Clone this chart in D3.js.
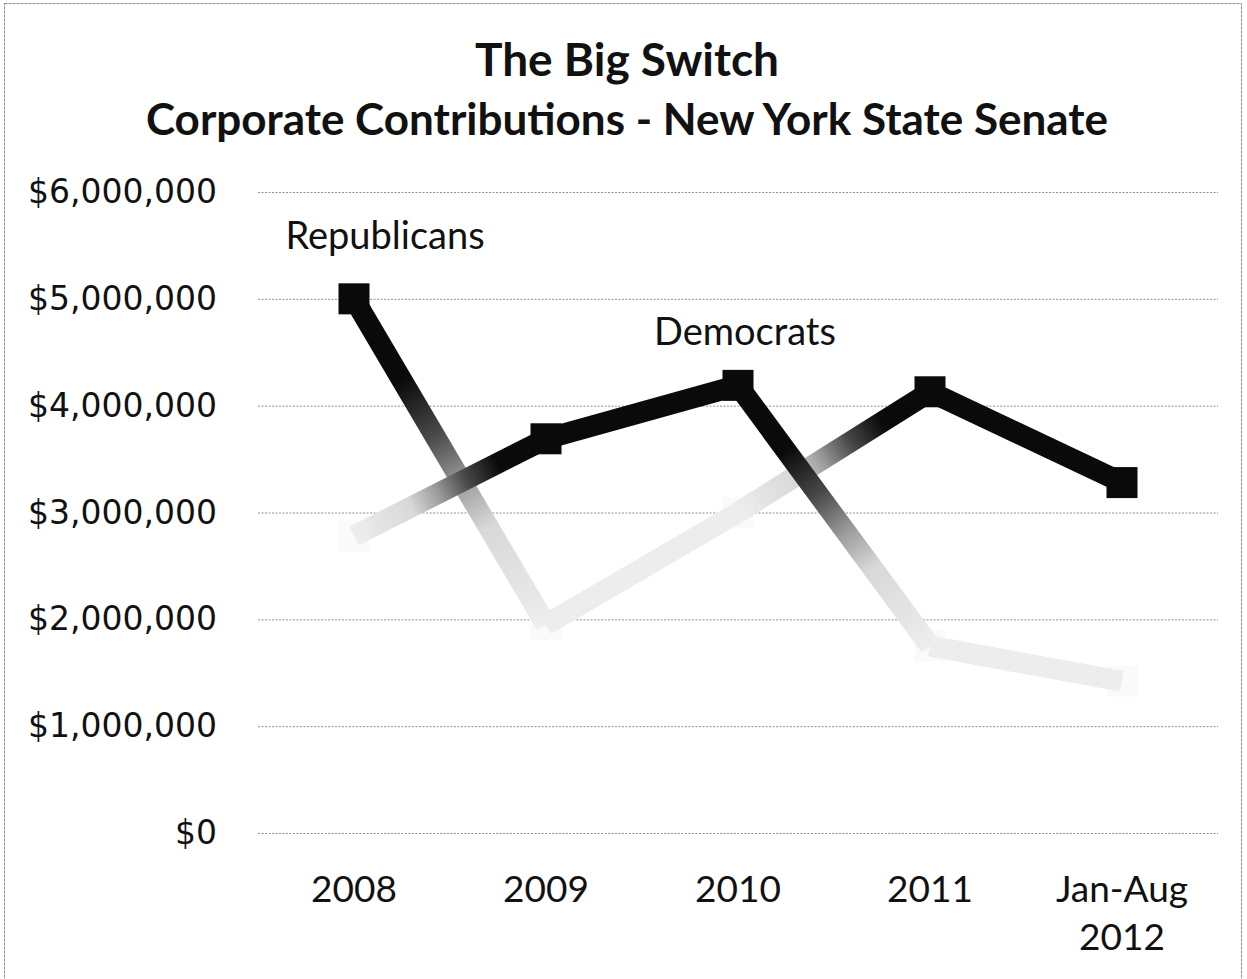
<!DOCTYPE html>
<html>
<head>
<meta charset="utf-8">
<script src="https://cdn.jsdelivr.net/npm/d3@7"></script>
<style>
    body { margin: 0; background: #fff; }
</style>
</head>
<body>
<div class="switch-chart-container"></div>
<script>
// Data
const categories = ['2008', '2009', '2010', '2011', 'Jan-Aug 2012']
const republicans = [5000000, 1950000, 3000000, 4130000, 3280000]
const democrats = [2780000, 3690000, 4190000, 1750000, 1420000]
const yTicks = [0, 1000000, 2000000, 3000000, 4000000, 5000000, 6000000]
const seriesNames = ['Republicans', 'Democrats']

let chart_dimensions = {
    width: 1247,
    height: 979,
    margin: {
        top: 192,
        bottom: 146,
        left: 258,
        right: 29
    }
}

const svg = d3.select('.switch-chart-container')
    .append('svg')
    .attr('width', chart_dimensions.width)
    .attr('height', chart_dimensions.height)

// frame of the scanned chart
svg.append('rect')
    .attr('x', 4.5)
    .attr('y', 3.5)
    .attr('width', 1237)
    .attr('height', 1000)
    .attr('fill', 'none')
    .attr('stroke', '#8c8c8c')
    .attr('stroke-dasharray', '3,1')

const containerWidth = chart_dimensions.width - chart_dimensions.margin.left - chart_dimensions.margin.right
const containerHeight = chart_dimensions.height - chart_dimensions.margin.top - chart_dimensions.margin.bottom

const container = svg.append('g')
    .attr('transform', `translate(${chart_dimensions.margin.left},${chart_dimensions.margin.top})`)

const xScale = d3.scaleBand()
    .domain(categories)
    .range([0, containerWidth])

const yScale = d3.scaleLinear()
    .domain([0, 6000000])
    .range([containerHeight, 0])

const cx = d => xScale(d) + xScale.bandwidth() / 2

// Y Axis + gridlines
const yAxis = d3.axisLeft(yScale)
    .tickValues(yTicks)
    .tickFormat(d3.format('$,'))
    .tickSize(-containerWidth)
    .tickPadding(41)

const yAxisGroup = container.append('g').call(yAxis)
yAxisGroup.select('.domain').remove()
yAxisGroup.selectAll('line')
    .attr('stroke', '#8f8f8f')
    .attr('stroke-dasharray', '2,1.5')
yAxisGroup.selectAll('text')
    .attr('font-family', 'DejaVu Sans')
    .attr('font-size', '33px')
    .attr('fill', '#111')

// X labels (last one wraps to two lines)
const xLabels = container.append('g')
    .selectAll('text')
    .data(categories)
    .join('text')
    .attr('x', d => cx(d))
    .attr('y', 710)
    .attr('text-anchor', 'middle')
    .attr('font-family', 'Lato')
    .attr('font-size', '37px')
    .attr('fill', '#111')

xLabels.each(function(d) {
    const words = d.split(' ')
    d3.select(this).selectAll('tspan')
        .data(words)
        .join('tspan')
        .attr('x', cx(d))
        .attr('dy', (w, i) => i === 0 ? 0 : 48)
        .text(w => w)
})

// Lines: dark where the party is on top, fading where it is below
const values = [republicans, democrats]
const isTop = (s, i) => values[s][i] >= values[1 - s][i]

const DARK = '#0a0a0a'
const LIGHT = '#ededed'

const defs = svg.append('defs')
const segments = []
values.forEach((vals, s) => {
    for (let i = 0; i < vals.length - 1; i++) {
        const a = isTop(s, i), b = isTop(s, i + 1)
        segments.push({ s, i, a, b, rank: (a ? 1 : 0) + (b ? 1 : 0) })
    }
})
segments.sort((p, q) => p.rank - q.rank)

function stopsFor(a, b) {
    if (a && b) return [[0, DARK], [1, DARK]]
    if (!a && !b) return [[0, LIGHT], [1, LIGHT]]
    const fade = [[0, DARK], [0.25, DARK], [0.42, '#4a4a4a'], [0.56, '#9a9a9a'], [0.7, '#d8d8d8'], [1, LIGHT]]
    return a ? fade : fade.map(([o, c]) => [1 - o, c]).reverse()
}

segments.forEach(seg => {
    const vals = values[seg.s]
    const x1 = cx(categories[seg.i]), y1 = yScale(vals[seg.i])
    const x2 = cx(categories[seg.i + 1]), y2 = yScale(vals[seg.i + 1])
    const id = `grad-${seg.s}-${seg.i}`
    // userSpaceOnUse -> coordinates of the container group
    const grad = defs.append('linearGradient')
        .attr('id', id)
        .attr('gradientUnits', 'userSpaceOnUse')
        .attr('x1', x1).attr('y1', y1)
        .attr('x2', x2).attr('y2', y2)
    grad.selectAll('stop')
        .data(stopsFor(seg.a, seg.b))
        .join('stop')
        .attr('offset', d => d[0])
        .attr('stop-color', d => d[1])

    container.append('path')
        .attr('d', d3.line()([[x1, y1], [x2, y2]]))
        .attr('stroke', `url(#${id})`)
        .attr('stroke-width', 21)
        .attr('fill', 'none')
})

// Markers (only the top party's square shows up dark, the other barely)
values.forEach((vals, s) => {
    container.append('g')
        .selectAll('rect')
        .data(vals.map((v, i) => ({ v, i })))
        .join('rect')
        .attr('x', d => cx(categories[d.i]) - 15.5)
        .attr('y', d => yScale(d.v) - 15.5)
        .attr('width', 31)
        .attr('height', 31)
        .attr('fill', d => isTop(s, d.i) ? DARK : LIGHT)
        .attr('opacity', d => isTop(s, d.i) ? 1 : 0.3)
})

// Series labels
container.append('text')
    .attr('x', 385 - chart_dimensions.margin.left)
    .attr('y', 249 - chart_dimensions.margin.top)
    .attr('text-anchor', 'middle')
    .attr('font-family', 'Lato')
    .attr('font-size', '38px')
    .attr('fill', '#111')
    .text(seriesNames[0])

container.append('text')
    .attr('x', 745 - chart_dimensions.margin.left)
    .attr('y', 345 - chart_dimensions.margin.top)
    .attr('text-anchor', 'middle')
    .attr('font-family', 'Lato')
    .attr('font-size', '38px')
    .attr('fill', '#111')
    .text(seriesNames[1])

// Title
svg.append('text')
    .attr('x', 627)
    .attr('y', 76)
    .attr('text-anchor', 'middle')
    .attr('font-family', 'Lato')
    .attr('font-weight', 'bold')
    .attr('font-size', '46px')
    .attr('fill', '#111')
    .text('The Big Switch')

svg.append('text')
    .attr('x', 627)
    .attr('y', 135)
    .attr('text-anchor', 'middle')
    .attr('font-family', 'Lato')
    .attr('font-weight', 'bold')
    .attr('font-size', '44px')
    .attr('fill', '#111')
    .text('Corporate Contributions - New York State Senate')
</script>
</body>
</html>
